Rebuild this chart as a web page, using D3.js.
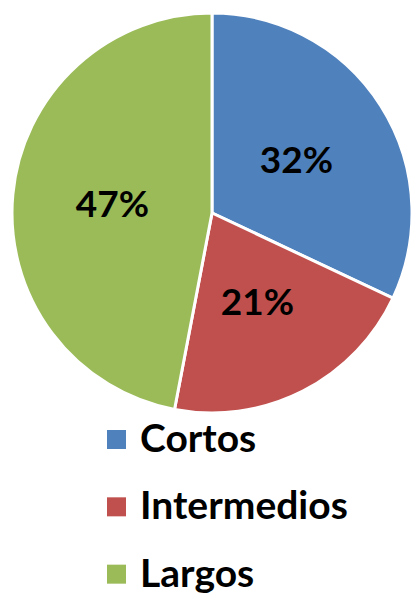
<!DOCTYPE html>
<html>
<head>
<meta charset="utf-8">
<script src="https://cdn.jsdelivr.net/npm/d3@7"></script>
<style>
  body { margin: 0; background: #fff; }
  text { font-family: Lato, "Open Sans", sans-serif; font-weight: bold; fill: #000; }
</style>
</head>
<body>
<div id="chart"></div>
<script>
const categories = ['Cortos', 'Intermedios', 'Largos'];
const values = [32, 21, 47];
const colors = ['#4F81BD', '#C0504D', '#9BBB59'];

const width = 411;
const height = 593;
const radius = 200;
const cx = 212, cy = 213;

const svg = d3.select('#chart')
    .append('svg')
    .attr('width', width)
    .attr('height', height);

const g = svg.append('g')
    .attr('transform', `translate(${cx}, ${cy})`);

const data = categories.map((c, i) => ({ label: c, value: values[i] }));
const total = d3.sum(values);

const pie = d3.pie()
    .value(d => d.value)
    .sort(null);

const arc = d3.arc()
    .innerRadius(0)
    .outerRadius(radius);

const arcs = pie(data);

g.selectAll('path')
    .data(arcs)
    .enter()
    .append('path')
    .attr('d', arc)
    .attr('fill', (d, i) => colors[i])
    .attr('stroke', 'white')
    .style('stroke-width', '3px');

// percentage labels
g.selectAll('text.pct')
    .data(arcs)
    .enter()
    .append('text')
    .attr('class', 'pct')
    .attr('transform', d => `translate(${arc.centroid(d)})`)
    .attr('text-anchor', 'middle')
    .attr('dy', '0.36em')
    .style('font-size', '37px')
    .text(d => Math.round(d.data.value / total * 100) + '%');

// legend
const legend = svg.append('g')
    .attr('transform', 'translate(107, 430)');

const row = d3.scaleBand()
    .domain(categories)
    .range([0, 202]);

const item = legend.selectAll('g')
    .data(categories)
    .enter()
    .append('g')
    .attr('transform', c => `translate(0, ${row(c)})`);

item.append('rect')
    .attr('width', 19)
    .attr('height', 19)
    .attr('fill', (c, i) => colors[i]);

item.append('text')
    .attr('x', 33)
    .attr('y', 22)
    .style('font-size', '39px')
    .text(c => c);
</script>
</body>
</html>
